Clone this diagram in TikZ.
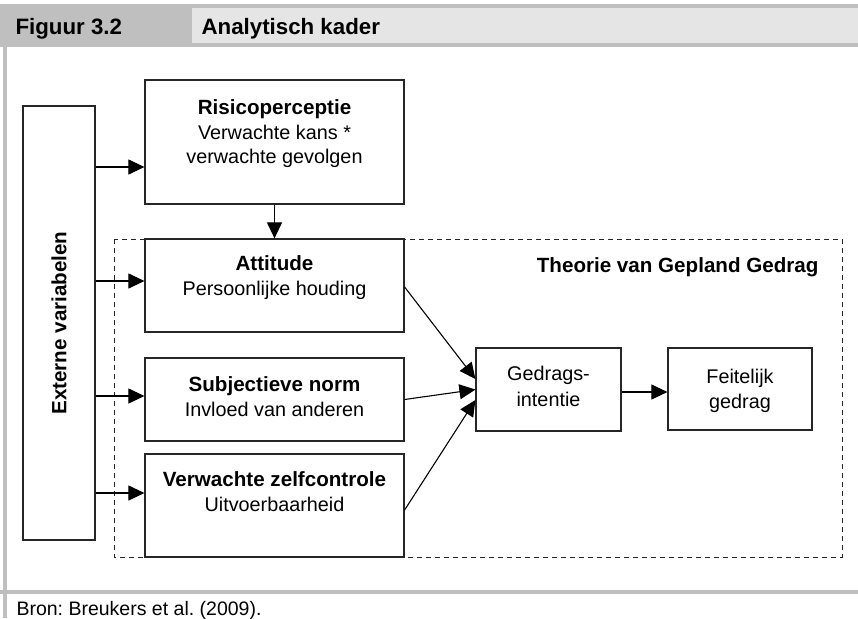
\documentclass[tikz,border=0pt]{standalone}
\usepackage{fontspec}
\setmainfont{Liberation Sans}
\usepackage{tikz}
\usetikzlibrary{arrows.meta,positioning,calc}
\frenchspacing
\definecolor{bandgray}{RGB}{191,191,191}
\definecolor{titlegray}{RGB}{229,229,229}
\newcommand\fsnorm{\fontsize{19.8}{24.5}\selectfont}
\newcommand\fsbold{\fontsize{20.6}{24.5}\selectfont\bfseries}
\newcommand\fshead{\fontsize{22.3}{26}\selectfont\bfseries}

\begin{document}
\begin{tikzpicture}[
    x=1pt, y=-1pt,
    box/.style={draw=black!85, line width=1.2pt, fill=white, inner sep=0pt, align=center, font=\fsnorm},
    arr/.style={-{Triangle[length=16pt,width=15pt]}, line width=1.1pt},
    tpb/.style={draw=black!85, line width=0.9pt, dash pattern=on 5pt off 4pt},
    hd/.style={font=\fshead, anchor=base west}
  ]
  \useasboundingbox (0,0) rectangle (858,618);

  % frame
  \fill[bandgray] (0,4) rectangle (858,47);
  \fill[titlegray] (192,8) rectangle (858,43);
  \fill[bandgray] (3,47) rectangle (7,618);
  \fill[bandgray] (0,590) rectangle (858,594);
  \node[hd] (fignr) at (12,35) {Figuur 3.2};
  \node[hd] (figtitle) at (198,35) {Analytisch kader};
  \node[font=\fontsize{19.5}{22}\selectfont, anchor=base west] (bron) at (13,615) {Bron: Breukers et al. (2009).};

  % theory of planned behaviour
  \draw[tpb] (114,239) rectangle (842,557);
  \node[font=\fsbold, anchor=base east] (tpbtitle) at (822,272) {Theorie van Gepland Gedrag};

  % boxes
  \node[box, minimum width=72, minimum height=434] (ext) at (59,323) {\rotatebox{90}{\fsbold Externe variabelen}};
  \node[box, minimum width=259, minimum height=124] (risico) at (274.5,142)
    {{\fsbold Risicoperceptie}\\Verwachte kans *\\verwachte gevolgen\rule[-20pt]{0pt}{0pt}};
  \node[box, minimum width=259, minimum height=93] (attitude) at (274.5,285.5)
    {{\fsbold Attitude}\\Persoonlijke houding\rule[-20pt]{0pt}{0pt}};
  \node[box, minimum width=259, minimum height=83] (subnorm) at (274.5,399.5)
    {{\fsbold Subjectieve norm}\\Invloed van anderen\rule[-6pt]{0pt}{0pt}};
  \node[box, minimum width=259, minimum height=103] (zelfctrl) at (274.5,505.5)
    {{\fsbold Verwachte zelfcontrole}\\Uitvoerbaarheid\rule[-28pt]{0pt}{0pt}};
  \node[box, minimum width=145, minimum height=83, font=\fontsize{19.8}{26.5}\selectfont] (gedrags) at (548.5,389.5) {Gedrags-\\intentie\rule[-6pt]{0pt}{0pt}};
  \node[box, minimum width=144, minimum height=82, font=\fontsize{19.8}{25.5}\selectfont] (feitelijk) at (740,389) {\rule{0pt}{18pt}Feitelijk\\gedrag};

  % connectors
  \draw[arr] (ext.east |- 0,167) -- (risico.west |- 0,167);
  \draw[arr] (ext.east |- 0,281) -- (attitude.west |- 0,281);
  \draw[arr] (ext.east |- 0,396) -- (subnorm.west |- 0,396);
  \draw[arr] (ext.east |- 0,493) -- (zelfctrl.west |- 0,493);
  \draw[arr] (risico.south) -- (attitude.north);
  \draw[arr] ([yshift=-1.5pt]attitude.east) -- ([yshift=10.5pt]gedrags.west);
  \draw[arr] (subnorm.east) -- (gedrags.west);
  \draw[arr] ([yshift=-4.5pt]zelfctrl.east) -- ([yshift=-10.5pt]gedrags.west);
  \draw[arr] ([yshift=-2.5pt]gedrags.east) -- (feitelijk.west |- 0,392);
\end{tikzpicture}
\end{document}
